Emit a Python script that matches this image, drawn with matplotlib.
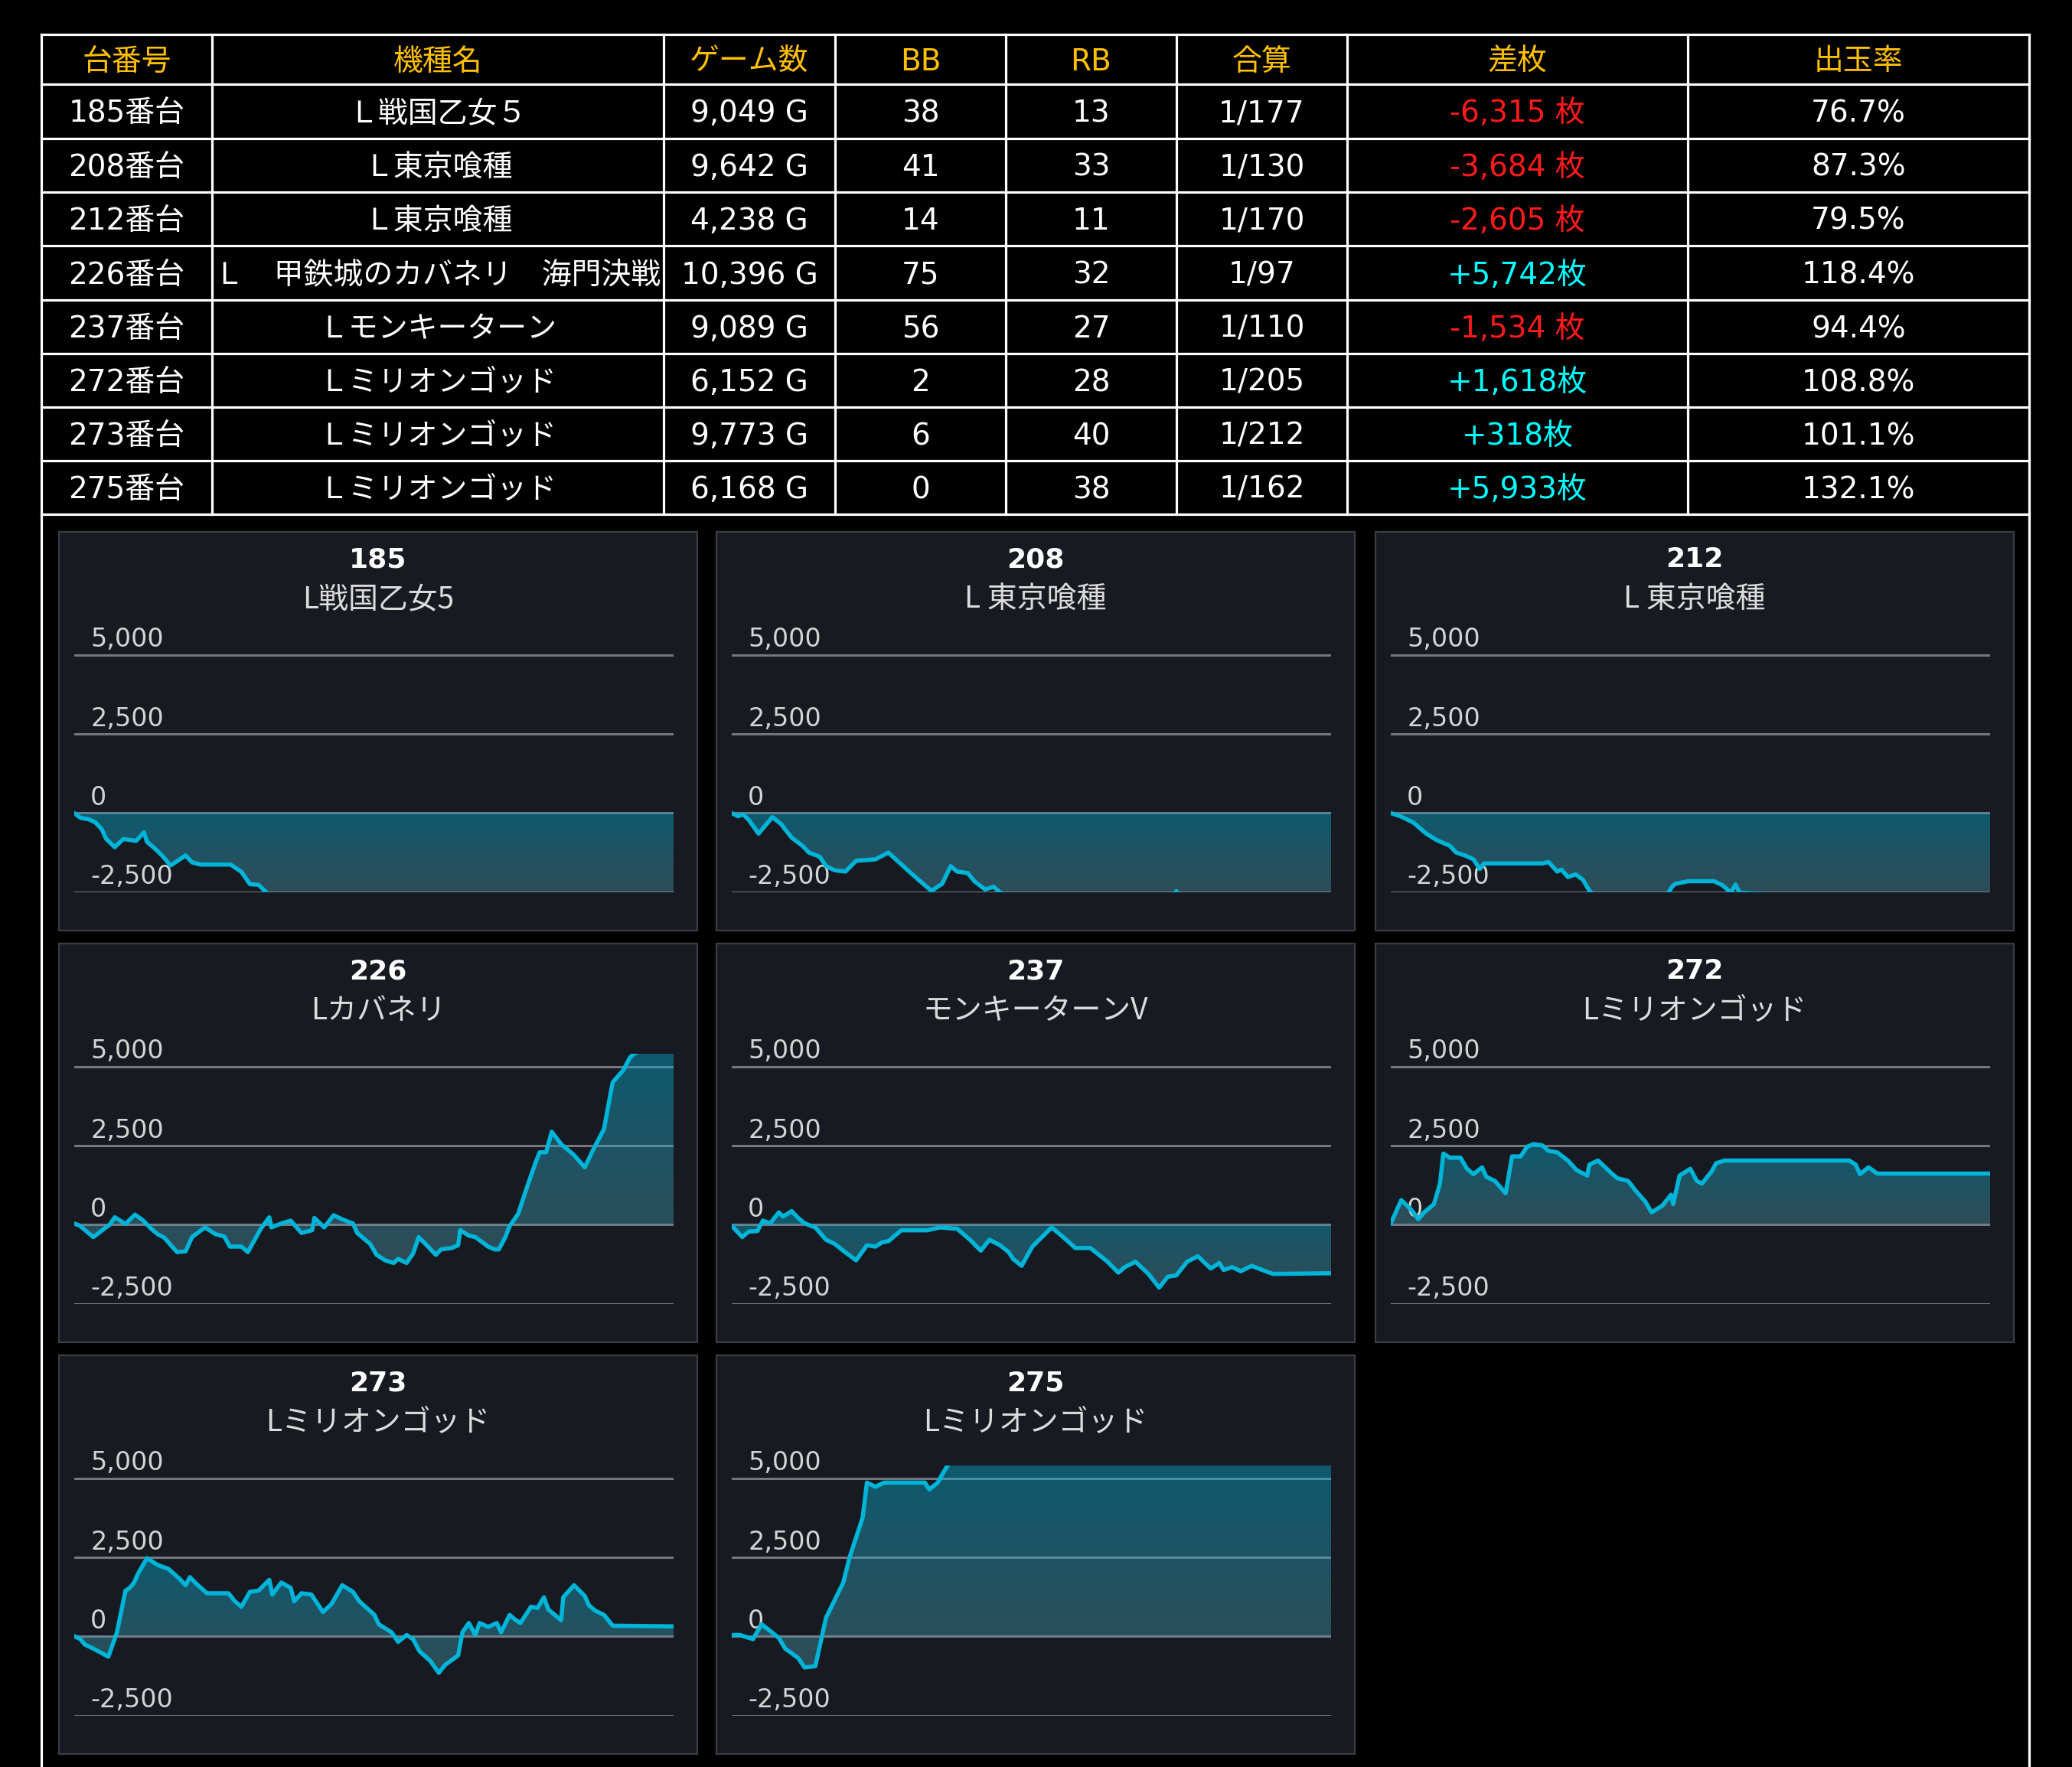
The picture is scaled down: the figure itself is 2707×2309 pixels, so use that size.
import numpy as np
import matplotlib
matplotlib.use('Agg')
import matplotlib.pyplot as plt
from matplotlib.patches import Rectangle

plt.rcParams['font.family'] = ['Noto Sans CJK JP', 'DejaVu Sans']

W, H = 2707, 2309
DPI = 100

# ---------------- table data ----------------
headers = ['台番号', '機種名', 'ゲーム数', 'BB', 'RB', '合算', '差枚', '出玉率']
unit_ids = ['185番台', '208番台', '212番台', '226番台', '237番台', '272番台', '273番台', '275番台']
machine_names = ['Ｌ戦国乙女５', 'Ｌ東京喰種', 'Ｌ東京喰種', 'Ｌ　甲鉄城のカバネリ　海門決戦',
                 'Ｌモンキーターン', 'Ｌミリオンゴッド', 'Ｌミリオンゴッド', 'Ｌミリオンゴッド']
games = [9049, 9642, 4238, 10396, 9089, 6152, 9773, 6168]
bb = [38, 41, 14, 75, 56, 2, 6, 0]
rb = [13, 33, 11, 32, 27, 28, 40, 38]
combined = ['1/177', '1/130', '1/170', '1/97', '1/110', '1/205', '1/212', '1/162']
diff = [-6315, -3684, -2605, 5742, -1534, 1618, 318, 5933]
payout = [76.7, 87.3, 79.5, 118.4, 94.4, 108.8, 101.1, 132.1]

# ---------------- panel data ----------------
panel_titles = ['185', '208', '212', '226', '237', '272', '273', '275']
panel_names = ['L戦国乙女5', 'L 東京喰種', 'L 東京喰種', 'Lカバネリ', 'モンキーターンV',
               'Lミリオンゴッド', 'Lミリオンゴッド', 'Lミリオンゴッド']
y_ticks = [5000, 2500, 0, -2500]
y_min, y_max = -2500, 5400

s185_x = [0, 97, 227, 324, 421, 486, 615, 745, 939, 1056, 1101, 1198, 1328, 1457, 1684, 1781, 1911,
          2364, 2526, 2656, 2785, 2947, 3600, 4500, 5500, 6500, 7500, 8300, 9049]
s185_y = [0, -150, -200, -300, -520, -820, -1080, -820, -880, -610, -910, -1080, -1340, -1660, -1340,
          -1560, -1630, -1630, -1860, -2250, -2270, -2600, -3100, -3700, -4300, -4900, -5500, -5900, -6315]

s208_x = [0, 104, 187, 276, 435, 657, 795, 968, 1140, 1244, 1417, 1521, 1659, 1832, 2004, 2315, 2523,
          2834, 3007, 3214, 3387, 3525, 3629, 3801, 3905, 4078, 4216, 4320, 5218, 6601, 7050, 7154,
          7250, 8674, 9642]
s208_y = [0, -100, -40, -215, -650, -130, -345, -780, -1035, -1250, -1380, -1680, -1810, -1850, -1510,
          -1465, -1250, -1810, -2110, -2460, -2240, -1680, -1850, -1900, -2155, -2415, -2330, -2520,
          -3000, -2900, -2800, -2470, -2800, -3400, -3684]

s212_x = [0, 70, 161, 252, 328, 419, 464, 525, 586, 631, 662, 768, 1072, 1117, 1178, 1208, 1254, 1308,
          1360, 1406, 1436, 1679, 1950, 1967, 1990, 2013, 2104, 2286, 2347, 2407, 2438, 2468, 2893, 4238]
s212_y = [0, -100, -300, -650, -860, -1035, -1250, -1340, -1465, -1770, -1595, -1595, -1595, -1550,
          -1850, -1790, -2025, -1940, -2110, -2460, -2590, -2700, -2600, -2500, -2330, -2240, -2155,
          -2155, -2285, -2520, -2260, -2520, -2640, -2605]

s226_x = [0, 97, 335, 521, 618, 707, 893, 1057, 1191, 1340, 1451, 1563, 1786, 1935, 2046, 2270, 2456,
          2605, 2701, 2902, 3014, 3237, 3386, 3423, 3594, 3758, 3944, 4130, 4167, 4338, 4502, 4651,
          4837, 4911, 5135, 5246, 5395, 5544, 5619, 5767, 5879, 5976, 6139, 6273, 6363, 6549, 6660,
          6697, 6846, 6958, 7181, 7293, 7367, 7479, 7553, 7702, 7851, 8000, 8074, 8186, 8283, 8446,
          8669, 8856, 9004, 9190, 9339, 9525, 9637, 9711, 9935, 10396]
s226_y = [40, -25, -390, -130, 0, 235, 25, 320, 145, -130, -300, -405, -865, -840, -390, -85, -300,
          -370, -690, -690, -865, -130, 235, -85, 40, 130, -260, -170, 215, -85, 300, 170, 40, -260,
          -605, -950, -1125, -1210, -1080, -1210, -910, -390, -690, -950, -780, -735, -650, -170, -345,
          -390, -690, -780, -780, -390, -45, 345, 1170, 1950, 2290, 2290, 2940, 2550, 2205, 1815, 2380,
          3030, 4500, 4890, 5280, 5410, 5600, 5742]

s237_x = [0, 163, 261, 391, 476, 586, 717, 782, 912, 1010, 1108, 1270, 1433, 1564, 1694, 1889, 2052,
          2183, 2280, 2378, 2574, 2704, 2965, 3160, 3421, 3616, 3779, 3909, 4072, 4202, 4268, 4398,
          4561, 4854, 5049, 5212, 5440, 5701, 5864, 5962, 6124, 6320, 6483, 6613, 6743, 6906, 7069,
          7265, 7395, 7460, 7590, 7721, 7884, 8046, 8209, 9089]
s237_y = [-25, -390, -215, -200, 130, 45, 390, 260, 430, 215, 45, -85, -475, -605, -820, -1125, -650,
          -690, -560, -520, -175, -175, -175, -85, -130, -475, -820, -475, -650, -865, -1080, -1300,
          -690, -85, -430, -735, -735, -1170, -1515, -1340, -1170, -1555, -1990, -1645, -1600, -1170,
          -995, -1385, -1210, -1430, -1340, -1470, -1300, -1430, -1555, -1534]

s272_x = [0, 110, 212, 286, 344, 445, 507, 542, 608, 718, 784, 851, 939, 983, 1071, 1181, 1247, 1335,
          1401, 1467, 1556, 1622, 1710, 1820, 1908, 2018, 2040, 2129, 2261, 2327, 2437, 2525, 2613,
          2679, 2790, 2878, 2900, 2966, 3076, 3142, 3195, 3296, 3340, 3429, 4707, 4773, 4817, 4905,
          4993, 6152]
s272_y = [25, 780, 475, 175, 390, 650, 1300, 2250, 2120, 2120, 1770, 1600, 1815, 1515, 1385, 995, 2160,
          2160, 2465, 2550, 2510, 2335, 2290, 2030, 1730, 1555, 1900, 2030, 1645, 1470, 1385, 1040,
          735, 390, 605, 950, 650, 1555, 1770, 1385, 1300, 1690, 1945, 2030, 2030, 1900, 1600, 1815,
          1618, 1618]

s273_x = [0, 105, 175, 315, 560, 700, 839, 909, 979, 1049, 1189, 1364, 1539, 1714, 1819, 1889, 1994,
          2169, 2518, 2623, 2728, 2868, 3008, 3183, 3232, 3379, 3533, 3589, 3708, 3869, 4058, 4197,
          4372, 4547, 4652, 4897, 4967, 5177, 5282, 5422, 5527, 5632, 5806, 5946, 6051, 6261, 6331,
          6436, 6541, 6611, 6751, 6891, 6961, 7101, 7206, 7276, 7450, 7555, 7660, 7730, 7940, 7975,
          8150, 8325, 8395, 8500, 8640, 8780, 9773]
s273_y = [15, -85, -255, -385, -640, 130, 1450, 1535, 1705, 2005, 2475, 2260, 2135, 1835, 1620, 1875,
          1665, 1365, 1365, 1110, 940, 1410, 1450, 1790, 1325, 1705, 1535, 1110, 1365, 1325, 770, 1025,
          1620, 1410, 1110, 680, 385, 130, -170, 45, -85, -470, -770, -1150, -895, -600, 130, 425, 45,
          425, 300, 425, 130, 680, 510, 425, 940, 900, 1240, 855, 510, 1240, 1620, 1280, 980, 810, 680,
          340, 318]

s275_x = [0, 88, 221, 310, 398, 486, 553, 685, 752, 862, 973, 1150, 1216, 1349, 1393, 1481, 1570, 1990,
          2034, 2122, 2167, 2233, 2896, 6168]
s275_y = [45, 45, -85, 385, 170, -45, -385, -680, -980, -940, 595, 1705, 2515, 3755, 4865, 4735, 4865,
          4865, 4650, 4865, 5120, 5460, 5750, 5933]

series_x = [s185_x, s208_x, s212_x, s226_x, s237_x, s272_x, s273_x, s275_x]
series_y = [s185_y, s208_y, s212_y, s226_y, s237_y, s272_y, s273_y, s275_y]

# ---------------- colours ----------------
GOLD = '#FFC000'
RED = '#ff1a1a'
CYAN = '#00ffff'
PANEL_BG = '#181a22'
PANEL_EDGE = '#3b3d45'
GRID = '#76767e'
LINE = '#00b4d8'
LABEL = '#d4d4d4'
TOP_RGBA = np.array([0 / 255, 180 / 255, 216 / 255, 0.42])
BOT_RGBA = np.array([87 / 255, 166 / 255, 185 / 255, 0.36])
TABLE_FONT = ['DejaVu Sans', 'Noto Sans CJK JP']

fig = plt.figure(figsize=(W / DPI, H / DPI), dpi=DPI, facecolor='black')
bg = fig.add_axes([0, 0, 1, 1])
bg.set_xlim(0, W)
bg.set_ylim(H, 0)
bg.axis('off')
bg.set_zorder(0)

# ---------------- table ----------------
col_edges = [54, 277, 867, 1091, 1314, 1537, 1760, 2205, 2651]
row_edges = [45, 110, 181, 251, 321, 392, 462, 532, 602, 672]
LW = 2.3
for yy in row_edges:
    bg.plot([col_edges[0], col_edges[-1]], [yy, yy], color='white', lw=LW, solid_capstyle='projecting')
for xx in col_edges[1:-1]:
    bg.plot([xx, xx], [row_edges[0], row_edges[-1]], color='white', lw=LW)
for xx in (col_edges[0], col_edges[-1]):
    bg.plot([xx, xx], [row_edges[0], H + 5], color='white', lw=LW)

TFS = 28
def cell_text(ci, ri, s, color):
    cx = (col_edges[ci] + col_edges[ci + 1]) / 2
    cy = (row_edges[ri] + row_edges[ri + 1]) / 2 + 3
    bg.text(cx, cy, s, ha='center', va='center', fontsize=TFS, color=color, family=TABLE_FONT)

for ci, h in enumerate(headers):
    cell_text(ci, 0, h, GOLD)

for i in range(len(unit_ids)):
    r = i + 1
    cell_text(0, r, unit_ids[i], 'white')
    cell_text(1, r, machine_names[i], 'white')
    cell_text(2, r, f'{games[i]:,} G', 'white')
    cell_text(3, r, str(bb[i]), 'white')
    cell_text(4, r, str(rb[i]), 'white')
    cell_text(5, r, combined[i], 'white')
    d = diff[i]
    if d < 0:
        cell_text(6, r, f'{d:,} 枚', RED)
    else:
        cell_text(6, r, f'+{d:,}枚', CYAN)
    cell_text(7, r, f'{payout[i]:.1f}%', 'white')

# ---------------- panels ----------------
panel_lefts = [77, 936, 1797]
panel_tops = [695, 1233, 1771]
PW, PH = 834, 521
PLOT_L, PLOT_W = 19.7, 783.3
PLOT_TOP, PLOT_BOT = 144.3, 470.7

for k in range(len(panel_titles)):
    r, c = divmod(k, 3)
    pl, pt = panel_lefts[c], panel_tops[r]
    bg.add_patch(Rectangle((pl, pt), PW, PH, facecolor=PANEL_BG, edgecolor=PANEL_EDGE, lw=1.6, zorder=1))
    bg.text(pl + PW / 2, pt + 36, panel_titles[k], ha='center', va='center', fontsize=26,
            fontweight='bold', color='white', family='DejaVu Sans', zorder=2)
    bg.text(pl + PW / 2, pt + 88, panel_names[k], ha='center', va='center', fontsize=28,
            color='#dcdcdc', zorder=2)

    ax_l = (pl + PLOT_L) / W
    ax_w = PLOT_W / W
    ax_b = 1 - (pt + PLOT_BOT) / H
    ax_h = (PLOT_BOT - PLOT_TOP) / H
    ax = fig.add_axes([ax_l, ax_b, ax_w, ax_h])
    ax.set_zorder(1)
    ax.patch.set_alpha(0)
    for sp in ax.spines.values():
        sp.set_visible(False)
    ax.set_xticks([])
    ax.set_yticks([])

    x = np.asarray(series_x[k], dtype=float)
    y = np.asarray(series_y[k], dtype=float)
    assert len(x) == len(y)

    for tv in y_ticks:
        ax.axhline(tv, color=GRID, lw=2.2, zorder=1)
        ax.annotate(f'{tv:,}', xy=(0, tv), xycoords=('axes fraction', 'data'),
                    xytext=(15.5, 7.5), textcoords='offset points', ha='left', va='baseline',
                    fontsize=24, color=LABEL, family='DejaVu Sans', zorder=3,
                    annotation_clip=False)

    # gradient fill between the line and zero
    poly = ax.fill_between(x, y, 0, facecolor='none', edgecolor='none', linewidth=0)
    yv = np.clip(y, y_min, y_max)
    lo = max(min(yv.min(), 0), y_min)
    hi = min(max(yv.max(), 0), y_max)
    n = 256
    t = np.linspace(0, 1, n)[:, None, None]
    grad = BOT_RGBA[None, None, :] * (1 - t) + TOP_RGBA[None, None, :] * t
    im = ax.imshow(grad, extent=[x[0], x[-1], lo, hi], origin='lower', aspect='auto',
                   interpolation='bilinear', zorder=2)
    im.set_clip_path(poly.get_paths()[0], transform=ax.transData)

    ax.plot(x, y, color=LINE, lw=4.0, solid_joinstyle='round', solid_capstyle='round', zorder=4)
    ax.set_xlim(0, games[k])
    ax.set_ylim(y_min, y_max)

fig.savefig('out.png', dpi=DPI, facecolor='black')
